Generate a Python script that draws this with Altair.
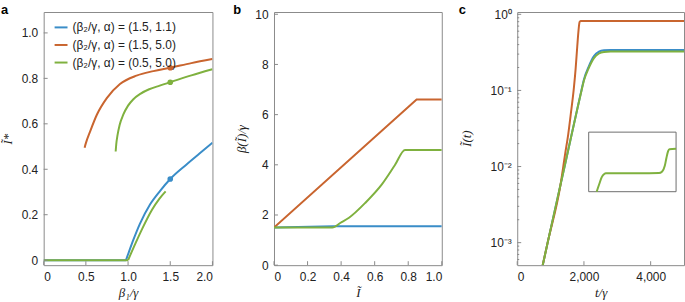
import altair as alt
import pandas as pd

# ---------------- data ----------------
SERIES = ["(β₂/γ, α) = (1.5, 1.1)", "(β₂/γ, α) = (1.5, 5.0)", "(β₂/γ, α) = (0.5, 5.0)"]
COLORS = ["#3a8dc8", "#c9652f", "#7fb13f"]

# panel a : I* vs beta1/gamma
a_blue_flat_x = [0.0, 0.975]
a_blue_flat_y = [0.0, 0.0]
a_blue_x = [0.975, 1.0, 1.06, 1.14, 1.26, 1.38, 1.5, 1.69, 1.85, 2.0]
a_blue_y = [0.0, 0.026, 0.087, 0.16, 0.245, 0.305, 0.357, 0.42, 0.47, 0.517]
a_orange_x = [0.485, 0.50, 0.552, 0.63, 0.748, 0.904, 1.1, 1.3, 1.5, 1.75, 2.0]
a_orange_y = [0.495, 0.515, 0.568, 0.64, 0.713, 0.775, 0.812, 0.832, 0.847, 0.867, 0.885]
a_green_flat_x = [0.0, 1.0]
a_green_flat_y = [0.0, 0.0]
a_green_low_x = [1.0, 1.089, 1.17, 1.284, 1.37, 1.445]
a_green_low_y = [0.0, 0.075, 0.14, 0.222, 0.27, 0.303]
a_green_up_x = [0.853, 0.86, 0.875, 0.9, 0.943, 1.0, 1.06, 1.15, 1.25, 1.375, 1.5, 1.75, 2.0]
a_green_up_y = [0.478, 0.51, 0.55, 0.595, 0.64, 0.68, 0.707, 0.733, 0.752, 0.768, 0.783, 0.813, 0.84]
a_dot_x = [1.5, 1.5, 1.5]
a_dot_y = [0.357, 0.847, 0.783]
a_xticks = [0, 0.5, 1.0, 1.5, 2.0]
a_yticks = [0, 0.2, 0.4, 0.6, 0.8, 1.0]

# panel b : beta(I)/gamma vs I
b_blue_x = [0.0, 0.357, 1.0]
b_blue_y = [1.5, 1.55, 1.55]
b_orange_x = [0.0, 0.85, 1.0]
b_orange_y = [1.5, 6.6, 6.6]
b_green_x = [0.0, 0.348, 0.397, 0.447, 0.545, 0.644, 0.72, 0.781, 1.0]
b_green_y = [1.5, 1.5, 1.69, 1.89, 2.49, 3.23, 3.98, 4.59, 4.59]
b_xticks = [0, 0.2, 0.4, 0.6, 0.8, 1.0]
b_yticks = [0, 2, 4, 6, 8, 10]

# panel c : I(t) vs t/gamma (log10 of value)
c_blue_t = [765, 912, 1420, 1929, 2000, 2140, 2300, 2450, 2600, 2800, 5000]
c_blue_lg = [-3.295, -3.0, -2.0, -0.99, -0.855, -0.69, -0.55, -0.49, -0.473, -0.469, -0.469]
c_orange_t = [765, 912, 1293, 1438, 1528, 1600, 1700, 1750, 1800, 1840, 1870, 1900, 5000]
c_orange_lg = [-3.295, -3.0, -2.25, -1.83, -1.58, -1.33, -0.96, -0.72, -0.42, -0.2, -0.1, -0.087, -0.087]
c_green_t = [765, 912, 1420, 1929, 2000, 2140, 2300, 2450, 2600, 2800, 5000]
c_green_lg = [-3.295, -3.0, -2.0, -1.0, -0.87, -0.71, -0.575, -0.515, -0.495, -0.49, -0.49]
c_xticks = [0, 2000, 4000]
c_yticks = [1.0, 0.1, 0.01, 0.001]
c_minor = [m * 10.0 ** e for e in (-4, -3, -2, -1) for m in range(2, 10) if m * 10.0 ** e >= 5.1e-4]

# inset (relative box coordinates)
in_x = [0.091, 0.121, 0.148, 0.178, 0.197, 0.40, 0.60, 0.803, 0.841, 0.871, 0.89, 0.909, 0.924, 1.0]
in_y = [0.0, 0.13, 0.24, 0.297, 0.308, 0.31, 0.311, 0.313, 0.34, 0.434, 0.571, 0.681, 0.714, 0.72]

# ---------------- helpers ----------------
FRAME = "#8a8a8a"
W_A, W_B, W_C, H = 170, 169, 168, 255
one = pd.DataFrame({"k": [0]})
color_scale = alt.Scale(domain=SERIES, range=COLORS)
dec_expr = "datum.value == 0 ? '0' : format(datum.value, '.1f')"

sx_a = alt.Scale(domain=[0, 2], nice=False, zero=False)
sy_a = alt.Scale(domain=[-0.022, 1.092], nice=False, zero=False)
sx_b = alt.Scale(domain=[0, 1], nice=False, zero=False)
sy_b = alt.Scale(domain=[0, 10.09], nice=False, zero=False)
sx_c = alt.Scale(domain=[0, 5000], nice=False, zero=False)
sy_c = alt.Scale(type="log", domain=[5.06e-4, 1.072], nice=False)
sx_in = alt.Scale(domain=[0, 1], range=[72, 160], nice=False, zero=False)
sy_in = alt.Scale(domain=[0, 1], range=[181, 121], nice=False, zero=False)


def line(name, sx, sy, ax, ay, segs, legend=None, logy=False, interp="linear"):
    rows = []
    for i, (sxv, syv) in enumerate(segs):
        for x, y in zip(sxv, syv):
            rows.append({"x": x, "y": (10 ** y) if logy else y, "series": name, "seg": i})
    df = pd.DataFrame(rows)
    return alt.Chart(df).mark_line(strokeWidth=2, clip=True, interpolate=interp).encode(
        x=alt.X("x:Q", scale=sx, axis=ax),
        y=alt.Y("y:Q", scale=sy, axis=ay),
        color=alt.Color("series:N", scale=color_scale, legend=legend),
        detail="seg:N",
    )


def xticks(vals, sx, ax, length=4):
    return alt.Chart(pd.DataFrame({"v": vals})).mark_rule(color=FRAME, strokeWidth=1).encode(
        x=alt.X("v:Q", scale=sx, axis=ax), y=alt.value(H), y2=alt.value(H - length))


def yticks(vals, sy, ay, length=4):
    return alt.Chart(pd.DataFrame({"v": vals})).mark_rule(color=FRAME, strokeWidth=1).encode(
        y=alt.Y("v:Q", scale=sy, axis=ay), x=alt.value(0), x2=alt.value(length))


def panel_label(txt, dx):
    return alt.Chart(one).mark_text(text=txt, align="left", baseline="top", font="Liberation Sans",
                                    fontSize=13, fontWeight="bold", color="black").encode(
        x=alt.value(dx), y=alt.value(-8))


def bound_rule(xpx):
    return alt.Chart(one).mark_rule(opacity=0).encode(x=alt.value(xpx), y=alt.value(100), y2=alt.value(101))


# ---------------- panel a ----------------
ax_a_x = alt.Axis(values=a_xticks, labelExpr=dec_expr, title="β₁/γ")
ax_a_y = alt.Axis(values=a_yticks, labelExpr=dec_expr, title="Ĩ*", titlePadding=7)
leg = alt.Legend(title=None, orient="none", legendX=10, legendY=8, padding=0, rowPadding=3.7,
                 symbolType="stroke", symbolSize=169, symbolStrokeWidth=2, labelOffset=4,
                 labelFont="Liberation Sans", labelFontSize=12, labelColor="#222")

blue_a = line(SERIES[0], sx_a, sy_a, ax_a_x, ax_a_y,
              [(a_blue_flat_x, a_blue_flat_y), (a_blue_x, a_blue_y)], leg, interp="monotone")
orange_a = line(SERIES[1], sx_a, sy_a, ax_a_x, ax_a_y, [(a_orange_x, a_orange_y)], leg,
                interp="monotone")
green_a = line(SERIES[2], sx_a, sy_a, ax_a_x, ax_a_y,
               [(a_green_flat_x, a_green_flat_y), (a_green_low_x, a_green_low_y),
                (a_green_up_x, a_green_up_y)], leg, interp="monotone")
dots_a = alt.Chart(pd.DataFrame({"x": a_dot_x, "y": a_dot_y, "series": SERIES})).mark_circle(
    size=32, opacity=1).encode(
    x=alt.X("x:Q", scale=sx_a, axis=ax_a_x), y=alt.Y("y:Q", scale=sy_a, axis=ax_a_y),
    fill=alt.Fill("series:N", scale=color_scale, legend=None))

panel_a = alt.layer(
    blue_a, orange_a, green_a, dots_a,
    xticks(a_xticks, sx_a, ax_a_x), yticks(a_yticks, sy_a, ax_a_y),
    panel_label("a", -43), bound_rule(W_A + 19)
).properties(width=W_A, height=H)

# ---------------- panel b ----------------
ax_b_x = alt.Axis(values=b_xticks, labelExpr=dec_expr, title="Ĩ")
ax_b_y = alt.Axis(values=b_yticks, format="d", title="β(Ĩ)/γ", titlePadding=6)
blue_b = line(SERIES[0], sx_b, sy_b, ax_b_x, ax_b_y, [(b_blue_x, b_blue_y)])
orange_b = line(SERIES[1], sx_b, sy_b, ax_b_x, ax_b_y, [(b_orange_x, b_orange_y)])
green_b = line(SERIES[2], sx_b, sy_b, ax_b_x, ax_b_y, [(b_green_x, b_green_y)], interp="monotone")
panel_b = alt.layer(
    blue_b, orange_b, green_b,
    xticks(b_xticks, sx_b, ax_b_x), yticks(b_yticks, sy_b, ax_b_y),
    panel_label("b", -41), bound_rule(W_B + 15)
).properties(width=W_B, height=H)

# ---------------- panel c ----------------
sup_expr = ("datum.value > 0.5 ? '10⁰' : datum.value > 0.05 ? '10⁻¹' : "
            "datum.value > 0.005 ? '10⁻²' : '10⁻³'")
ax_c_x = alt.Axis(values=c_xticks, format=",d", title="t/γ")
ax_c_y = alt.Axis(values=c_yticks, labelExpr=sup_expr, title=None)
blue_c = line(SERIES[0], sx_c, sy_c, ax_c_x, ax_c_y, [(c_blue_t, c_blue_lg)], logy=True,
              interp="monotone")
orange_c = line(SERIES[1], sx_c, sy_c, ax_c_x, ax_c_y, [(c_orange_t, c_orange_lg)], logy=True,
                interp="monotone")
green_c = line(SERIES[2], sx_c, sy_c, ax_c_x, ax_c_y, [(c_green_t, c_green_lg)], logy=True,
               interp="monotone")
c_ytitle = alt.Chart(one).mark_text(
    text="Ĩ(t)", angle=270, align="center", baseline="middle", font="Liberation Serif",
    fontStyle="italic", fontSize=13, color="#222").encode(x=alt.value(-51), y=alt.value(H / 2))
c_main = alt.layer(
    blue_c, orange_c, green_c,
    xticks(c_xticks, sx_c, ax_c_x), yticks(c_yticks, sy_c, ax_c_y),
    yticks(c_minor, sy_c, ax_c_y, length=2),
    panel_label("c", -59), c_ytitle
)
box = alt.Chart(pd.DataFrame({"x0": [0], "x1": [1], "y0": [0], "y1": [1]})).mark_rect(
    filled=False, stroke="#6e6e6e", strokeWidth=1).encode(
    x=alt.X("x0:Q", scale=sx_in, axis=None), x2="x1:Q",
    y=alt.Y("y0:Q", scale=sy_in, axis=None), y2="y1:Q")
inset_line = alt.Chart(pd.DataFrame({"x": in_x, "y": in_y})).mark_line(
    strokeWidth=2, color=COLORS[2], interpolate="monotone").encode(
    x=alt.X("x:Q", scale=sx_in, axis=None), y=alt.Y("y:Q", scale=sy_in, axis=None))
inset = alt.layer(box, inset_line)
panel_c = alt.layer(c_main, inset).resolve_scale(x="independent", y="independent").properties(
    width=W_C, height=H)

# ---------------- assemble ----------------
chart = alt.hconcat(panel_a, panel_b, panel_c, spacing=0).properties(
    padding={"left": 0, "top": 2, "right": 0, "bottom": 0}
).configure_view(stroke=FRAME, strokeWidth=1).configure_axis(
    grid=False, domain=False, tickSize=3, tickOpacity=0, labelPadding=3,
    labelFont="Liberation Sans", labelFontSize=12, labelColor="#222",
    titleFont="Liberation Serif", titleFontStyle="italic", titleFontWeight="normal",
    titleFontSize=13, titleColor="#222", titlePadding=5
)

chart.save("out.html", embed_options={"renderer": "svg", "actions": False})
